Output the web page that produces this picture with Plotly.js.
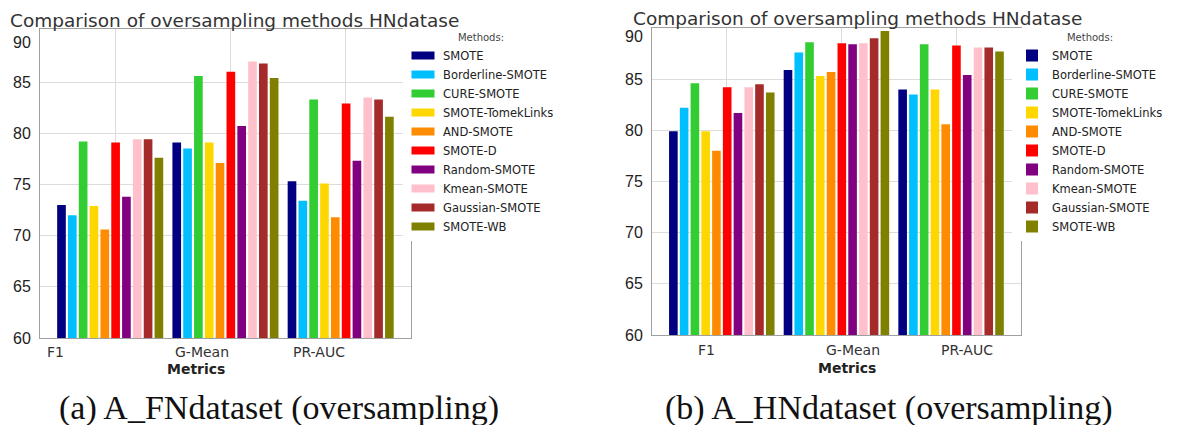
<!DOCTYPE html>
<html><head><meta charset="utf-8">
<script src="https://cdn.plot.ly/plotly-3.0.1.min.js"></script>
<style>html,body{margin:0;padding:0;background:#fff}</style>
</head><body><div id="chart" style="width:1181px;height:425px"></div>
<script>
const metrics = ["F1", "G-Mean", "PR-AUC"];
const methods = ["SMOTE","Borderline-SMOTE","CURE-SMOTE","SMOTE-TomekLinks","AND-SMOTE","SMOTE-D","Random-SMOTE","Kmean-SMOTE","Gaussian-SMOTE","SMOTE-WB"];
const colors = ["#000080","#00BFFF","#32CD32","#FFD700","#FF8C00","#FF0000","#800080","#FFC0CB","#A52A2A","#808000"];

// (a) A_FNdataset, one value per method
const fnF1    = [73.0, 72.0, 79.2, 72.9, 70.6, 79.1, 73.8, 79.4, 79.4, 77.6];
const fnGMean = [79.1, 78.5, 85.6, 79.1, 77.1, 86.0, 80.7, 87.0, 86.8, 85.4];
const fnPRAUC = [75.3, 73.4, 83.3, 75.1, 71.8, 82.9, 77.3, 83.5, 83.3, 81.6];
// (b) A_HNdataset
const hnF1    = [79.9, 82.2, 84.6, 79.9, 78.0, 84.2, 81.7, 84.2, 84.5, 83.7];
const hnGMean = [85.9, 87.6, 88.6, 85.3, 85.7, 88.5, 88.4, 88.5, 89.0, 89.7];
const hnPRAUC = [84.0, 83.5, 88.4, 84.0, 80.6, 88.3, 85.4, 88.1, 88.1, 87.7];

const chartTitle = "Comparison of oversampling methods HNdatase";
const captions = ["(a) A_FNdataset (oversampling)", "(b) A_HNdataset (oversampling)"];
const yTicks = [60, 65, 70, 75, 80, 85];
const yTopLabel = "90";

const W = 1181, H = 425;
const px = v => v / W;
const py = v => 1 - v / H;
const xi = metrics.map((m, i) => i);

const traces = [];
methods.forEach((m, j) => {
  traces.push({type: 'bar', name: m, x: xi, y: [fnF1[j], fnGMean[j], fnPRAUC[j]],
    marker: {color: colors[j]}, xaxis: 'x', yaxis: 'y', legend: 'legend', hoverinfo: 'y'});
});
methods.forEach((m, j) => {
  traces.push({type: 'bar', name: m, x: xi, y: [hnF1[j], hnGMean[j], hnPRAUC[j]],
    marker: {color: colors[j]}, xaxis: 'x2', yaxis: 'y2', legend: 'legend2', hoverinfo: 'y'});
});

const gridC = '#dcdcdc', lineC = '#a0a0a0';
function xax(d, anchor) {
  return {domain: d, anchor: anchor, range: [-0.609, 2.61], showgrid: true, gridcolor: gridC,
    tickvals: xi.map(v => v + 0.043), showticklabels: false, ticks: '', zeroline: false,
    showline: true, linecolor: lineC, linewidth: 1, mirror: true, fixedrange: true};
}
function yax(d, anchor, top) {
  return {domain: d, anchor: anchor, range: [60, top], tickvals: yTicks, showgrid: true, gridcolor: gridC,
    zeroline: false, showline: true, linecolor: lineC, linewidth: 1, mirror: true, ticks: '',
    ticklabelstandoff: 5, tickfont: {family: 'Liberation Sans, Arial, sans-serif', size: 16, color: '#222'}};
}

const ann = [];
// titles
ann.push({text: chartTitle, xref: 'paper', yref: 'paper', x: px(8), y: py(20), xanchor: 'left', yanchor: 'middle',
  showarrow: false, font: {family: 'DejaVu Sans', size: 18.5, color: '#333'}});
ann.push({text: chartTitle, xref: 'paper', yref: 'paper', x: px(631), y: py(19), xanchor: 'left', yanchor: 'middle',
  showarrow: false, font: {family: 'DejaVu Sans', size: 18.5, color: '#333'}});
// top y labels, pushed below the title as in the reference
ann.push({text: yTopLabel, xref: 'paper', yref: 'paper', x: px(33), y: py(42), xanchor: 'right', yanchor: 'middle',
  showarrow: false, font: {family: 'Liberation Sans, Arial, sans-serif', size: 16, color: '#222'}});
ann.push({text: yTopLabel, xref: 'paper', yref: 'paper', x: px(645), y: py(37), xanchor: 'right', yanchor: 'middle',
  showarrow: false, font: {family: 'Liberation Sans, Arial, sans-serif', size: 16, color: '#222'}});
// category labels
const lblL = [-0.478, 0.80, 1.809], lblR = [-0.13, 1.143, 2.135];
metrics.forEach((m, i) => {
  ann.push({text: m, xref: 'x', yref: 'paper', x: lblL[i], y: py(352), xanchor: 'center', yanchor: 'middle',
    showarrow: false, font: {family: 'DejaVu Sans', size: 14, color: '#333'}});
  ann.push({text: m, xref: 'x2', yref: 'paper', x: lblR[i], y: py(350), xanchor: 'center', yanchor: 'middle',
    showarrow: false, font: {family: 'DejaVu Sans', size: 14, color: '#333'}});
});
ann.push({text: '<b>Metrics</b>', xref: 'paper', yref: 'paper', x: px(196), y: py(369), xanchor: 'center', yanchor: 'middle',
  showarrow: false, font: {family: 'DejaVu Sans', size: 14, color: '#222'}});
ann.push({text: '<b>Metrics</b>', xref: 'paper', yref: 'paper', x: px(847), y: py(368), xanchor: 'center', yanchor: 'middle',
  showarrow: false, font: {family: 'DejaVu Sans', size: 14, color: '#222'}});
// captions
ann.push({text: captions[0], xref: 'paper', yref: 'paper', x: px(279), y: py(408), xanchor: 'center', yanchor: 'middle',
  showarrow: false, font: {family: 'Liberation Serif, serif', size: 34, color: '#111'}});
ann.push({text: captions[1], xref: 'paper', yref: 'paper', x: px(889), y: py(408), xanchor: 'center', yanchor: 'middle',
  showarrow: false, font: {family: 'Liberation Serif, serif', size: 34, color: '#111'}});

function leg(x) {
  return {x: px(x), xanchor: 'left', y: py(28), yanchor: 'top', bgcolor: '#ffffff', borderwidth: 0,
    font: {family: 'DejaVu Sans', size: 11.5, color: '#222'}, tracegroupgap: 0, itemclick: false,
    title: {text: 'Methods:', side: 'top center', font: {family: 'DejaVu Sans', size: 10, color: '#444'}}};
}

const layout = {
  width: W, height: H, margin: {l: 0, r: 0, t: 0, b: 0}, paper_bgcolor: '#fff', plot_bgcolor: '#fff',
  barmode: 'group', bargap: 0.061, bargroupgap: 0.2, showlegend: true,
  xaxis: xax([px(40), px(411)], 'y'),
  yaxis: yax([py(338), py(29.3)], 'x', 90.15),
  xaxis2: xax([px(652), px(1021)], 'y2'),
  yaxis2: yax([py(335), py(28)], 'x2', 90.0),
  legend: leg(403),
  legend2: leg(1012),
  annotations: ann
};

Plotly.newPlot('chart', traces, layout, {displayModeBar: false, staticPlot: true}).then(gd => {
  gd.querySelectorAll('.legend .legendpoints path').forEach(p => p.setAttribute('d', 'M11.5,4H-11.5V-4H11.5Z'));
});
</script></body></html>
